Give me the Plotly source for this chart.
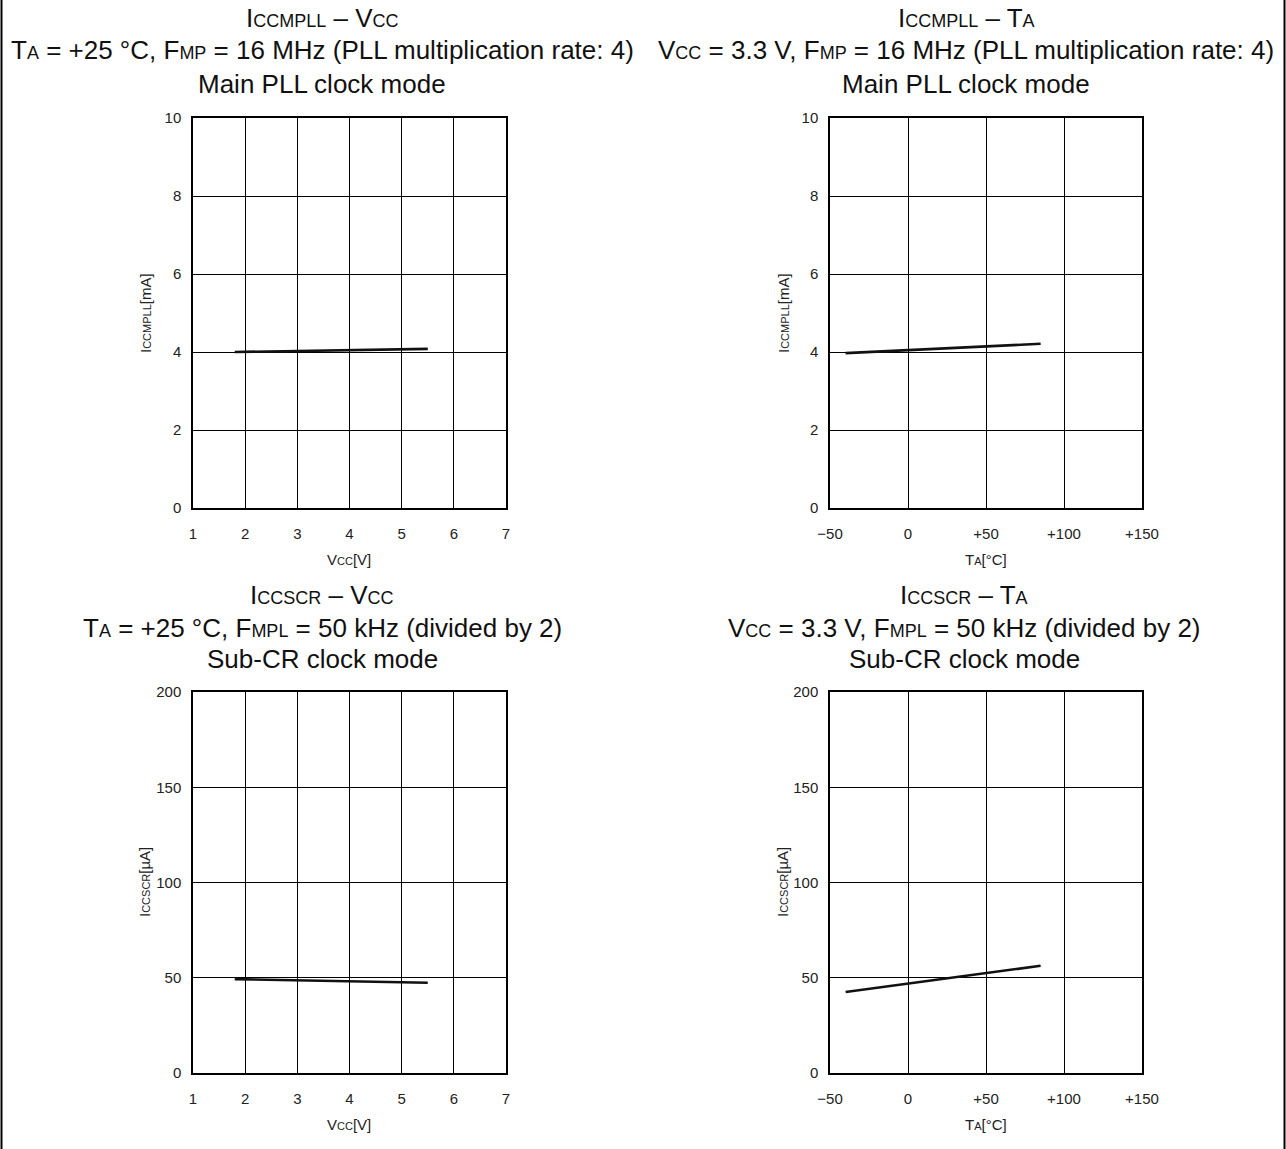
import plotly.graph_objects as go

# ---- data ----
vcc = [1.8, 5.5]
iccmpll_vs_vcc = [4.00, 4.08]
ta = [-40, 85]
iccmpll_vs_ta = [3.97, 4.21]
iccscr_vs_vcc = [49.3, 47.4]
iccscr_vs_ta = [42.5, 56.3]

vcc_ticks = [1, 2, 3, 4, 5, 6, 7]
ta_ticks = [-50, 0, 50, 100, 150]
ta_ticktext = ["\u221250", "0", "+50", "+100", "+150"]
ma_ticks = [0, 2, 4, 6, 8, 10]
ua_ticks = [0, 50, 100, 150, 200]

W, H = 1286, 1149
FONT = "Liberation Sans, Arial, sans-serif"


def px(x):
    return x / W


def py(y):
    return 1 - y / H


def sub(t, size):
    return f"<span style='font-size:{size}px'>{t}</span>"


fig = go.Figure()

LINE = dict(color="#111111", width=2.6)
fig.add_trace(go.Scatter(x=vcc, y=iccmpll_vs_vcc, mode="lines", line=LINE, xaxis="x", yaxis="y", showlegend=False))
fig.add_trace(go.Scatter(x=ta, y=iccmpll_vs_ta, mode="lines", line=LINE, xaxis="x2", yaxis="y2", showlegend=False))
fig.add_trace(go.Scatter(x=vcc, y=iccscr_vs_vcc, mode="lines", line=LINE, xaxis="x3", yaxis="y3", showlegend=False))
fig.add_trace(go.Scatter(x=ta, y=iccscr_vs_ta, mode="lines", line=LINE, xaxis="x4", yaxis="y4", showlegend=False))

L = (193, 506)
R = (830, 1142)
T = (118, 508)
B = (692, 1073)

common = dict(showline=True, mirror=True, linecolor="#000000", linewidth=1.5,
              showgrid=True, gridcolor="#000000", gridwidth=1, zeroline=False,
              ticks="", tickfont=dict(family=FONT, size=15, color="#222222"),
              fixedrange=True, automargin=False)

def xax(dom, anchor, vals, text=None, rng=None):
    d = dict(common, domain=[px(dom[0]), px(dom[1])], anchor=anchor, range=rng,
             tickmode="array", tickvals=vals, ticklabelstandoff=11)
    if text:
        d["ticktext"] = text
    return d

def yax(dom, anchor, vals, rng):
    return dict(common, domain=[py(dom[1]), py(dom[0])], anchor=anchor, range=rng,
                tickmode="array", tickvals=vals, ticklabelstandoff=7)

fig.update_layout(
    template="none",
    width=W, height=H, autosize=False,
    margin=dict(l=0, r=0, t=0, b=0, pad=0, autoexpand=False),
    paper_bgcolor="white", plot_bgcolor="white",
    font=dict(family=FONT, color="#111111"),
    showlegend=False,
    xaxis=xax(L, "y", vcc_ticks, rng=[1, 7]),
    yaxis=yax(T, "x", ma_ticks, [0, 10]),
    xaxis2=xax(R, "y2", ta_ticks, ta_ticktext, rng=[-50, 150]),
    yaxis2=yax(T, "x2", ma_ticks, [0, 10]),
    xaxis3=xax(L, "y3", vcc_ticks, rng=[1, 7]),
    yaxis3=yax(B, "x3", ua_ticks, [0, 200]),
    xaxis4=xax(R, "y4", ta_ticks, ta_ticktext, rng=[-50, 150]),
    yaxis4=yax(B, "x4", ua_ticks, [0, 200]),
)

ann = []
TF = 26
TS = 18

def title_lines(xc, ys, lines):
    for y, t in zip(ys, lines):
        ann.append(dict(x=px(xc), y=py(y), xref="paper", yref="paper", text=t, showarrow=False,
                        xanchor="center", yanchor="middle", font=dict(family=FONT, size=TF, color="#111111")))

title_lines(322, [18, 50, 84], [
    "I" + sub("CCMPLL", TS) + " \u2013 V" + sub("CC", TS),
    "T" + sub("A", TS) + " = +25 \u00b0C, F" + sub("MP", TS) + " = 16 MHz (PLL multiplication rate: 4)",
    "Main PLL clock mode"])
title_lines(966, [18, 50, 84], [
    "I" + sub("CCMPLL", TS) + " \u2013 T" + sub("A", TS),
    "V" + sub("CC", TS) + " = 3.3 V, F" + sub("MP", TS) + " = 16 MHz (PLL multiplication rate: 4)",
    "Main PLL clock mode"])
title_lines(322, [595, 628, 659], [
    "I" + sub("CCSCR", TS) + " \u2013 V" + sub("CC", TS),
    "T" + sub("A", TS) + " = +25 \u00b0C, F" + sub("MPL", TS) + " = 50 kHz (divided by 2)",
    "Sub-CR clock mode"])
title_lines(964, [595, 628, 659], [
    "I" + sub("CCSCR", TS) + " \u2013 T" + sub("A", TS),
    "V" + sub("CC", TS) + " = 3.3 V, F" + sub("MPL", TS) + " = 50 kHz (divided by 2)",
    "Sub-CR clock mode"])

AF = 15
AS = 11

def axis_title(x, y, text, angle=0):
    ann.append(dict(x=px(x), y=py(y), xref="paper", yref="paper", text=text, showarrow=False,
                    textangle=angle, xanchor="center", yanchor="middle",
                    font=dict(family=FONT, size=AF, color="#222222")))

axis_title(349.5, 559, "V" + sub("CC", AS) + "[V]")
axis_title(986, 559, "T" + sub("A", AS) + "[\u00b0C]")
axis_title(349.5, 1124, "V" + sub("CC", AS) + "[V]")
axis_title(986, 1124, "T" + sub("A", AS) + "[\u00b0C]")
axis_title(145, 313, "I" + sub("CCMPLL", AS) + "[mA]", -90)
axis_title(783, 313, "I" + sub("CCMPLL", AS) + "[mA]", -90)
axis_title(145, 882, "I" + sub("CCSCR", AS) + "[\u00b5A]", -90)
axis_title(783, 882, "I" + sub("CCSCR", AS) + "[\u00b5A]", -90)

fig.update_layout(annotations=ann)

fig.add_shape(type="line", xref="paper", yref="paper", x0=px(1.5), x1=px(1.5), y0=0, y1=1,
              line=dict(color="#000000", width=2))
fig.add_shape(type="line", xref="paper", yref="paper", x0=px(1284.5), x1=px(1284.5), y0=0, y1=1,
              line=dict(color="#000000", width=2))

fig.write_html("out.html", config={"displayModeBar": False},
               post_script="document.body.style.margin='0';document.body.style.overflow='hidden';")
